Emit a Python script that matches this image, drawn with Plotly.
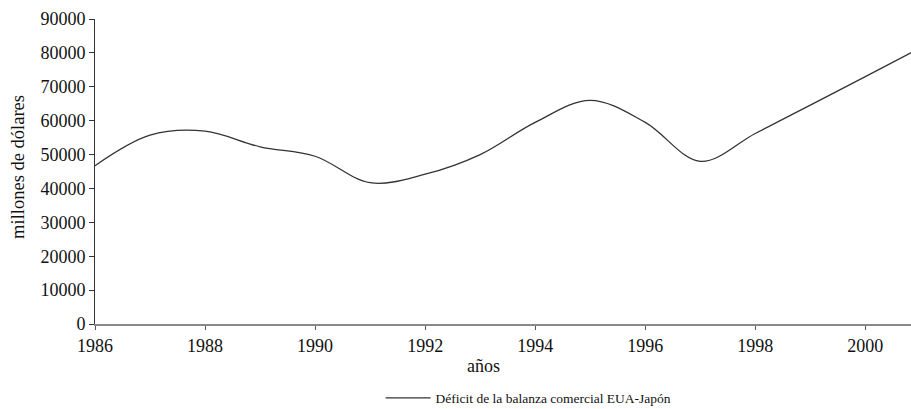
import plotly.graph_objects as go

years = [1986, 1987, 1988, 1989, 1990, 1991, 1992, 1993, 1994, 1995, 1996, 1997, 1998, 1999, 2000, 2001]
deficit = [46700, 55700, 56900, 52300, 49500, 41700, 44200, 50000, 59500, 66000, 59500, 48000, 56200, 64600, 73000, 81500]
y_ticks = [0, 10000, 20000, 30000, 40000, 50000, 60000, 70000, 80000, 90000]
x_ticks = [1986, 1988, 1990, 1992, 1994, 1996, 1998, 2000]

serif = "Times New Roman, Liberation Serif, DejaVu Serif, serif"

fig = go.Figure()
fig.add_trace(go.Scatter(
    x=years, y=deficit, mode="lines",
    line=dict(color="#333333", width=1.3, shape="spline", smoothing=1.0),
    name="Déficit de la balanza comercial EUA-Japón",
))

fig.update_layout(
    width=911, height=409,
    margin=dict(l=95, r=0, t=19, b=85, autoexpand=False),
    paper_bgcolor="white", plot_bgcolor="white",
    font=dict(family=serif, size=18, color="#111111"),
    showlegend=True,
    legend=dict(orientation="h", x=0.35, y=-0.243, xanchor="left", yanchor="middle",
                itemwidth=45,
                font=dict(family=serif, size=13.5, color="#111111"), bgcolor="rgba(0,0,0,0)"),
    xaxis=dict(range=[1986, 2000.83], tickvals=x_ticks, ticktext=[str(v) for v in x_ticks],
               showgrid=False, zeroline=False, showline=True, linecolor="#888888", linewidth=2,
               ticks="outside", ticklen=4, tickcolor="#555555", tickwidth=1,
               tickfont=dict(family=serif, size=18)),
    yaxis=dict(range=[0, 90000], tickvals=y_ticks, ticktext=[str(v) for v in y_ticks],
               showgrid=False, zeroline=False, showline=True, linecolor="#333333", linewidth=1,
               ticks="outside", ticklen=5, tickcolor="#333333",
               tickfont=dict(family=serif, size=18)),
    annotations=[
        dict(text="años", x=0.476, y=-0.138, xref="paper", yref="paper",
             showarrow=False, font=dict(family=serif, size=18), xanchor="center", yanchor="middle"),
        dict(text="millones de dólares", x=-0.0944, y=0.515, xref="paper", yref="paper",
             showarrow=False, textangle=-90, font=dict(family=serif, size=18.5),
             xanchor="center", yanchor="middle"),
    ],
)

fig.write_html(
    "out.html",
    config={"displayModeBar": False, "staticPlot": True},
    post_script="document.body.style.margin='0';document.documentElement.style.overflow='hidden';document.body.style.overflow='hidden';",
)
